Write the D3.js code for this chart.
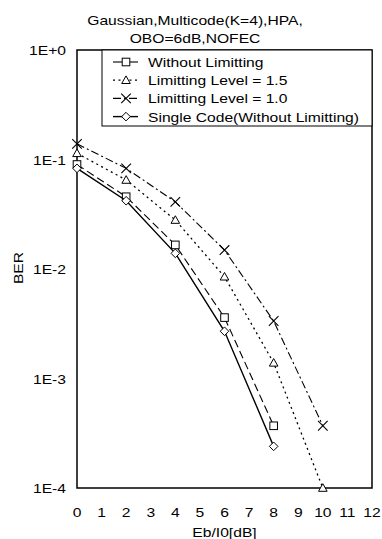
<!DOCTYPE html>
<html>
<head>
<meta charset="utf-8">
<script src="https://cdn.jsdelivr.net/npm/d3@7"></script>
<style>
  body { margin: 0; background: #fff; }
  text { font-family: "Liberation Sans", Arial, sans-serif; font-size: 13.6px; fill: #000; }
</style>
</head>
<body>
<div id="chart"></div>
<script>
var width = 382;
var height = 539;

// chart data
var xTicks = [0, 1, 2, 3, 4, 5, 6, 7, 8, 9, 10, 11, 12];
var yTicks = [1, 1e-1, 1e-2, 1e-3, 1e-4];
var yTickLabels = ["1E+0", "1E-1", "1E-2", "1E-3", "1E-4"];
var seriesNames = ["Without Limitting", "Limitting Level = 1.5", "Limitting Level = 1.0", "Single Code(Without Limitting)"];
var ebnoShort = [0, 2, 4, 6, 8];
var ebnoLong = [0, 2, 4, 6, 8, 10];
var berNoLimit = [0.090, 0.0457, 0.0166, 0.0036, 0.00037];
var berLimit15 = [0.114, 0.065, 0.028, 0.0085, 0.00139, 0.0001];
var berLimit10 = [0.139, 0.083, 0.041, 0.0149, 0.00335, 0.00037];
var berSingle = [0.083, 0.042, 0.0139, 0.0027, 0.00024];

var series = [
  {name: seriesNames[0], x: ebnoShort, y: berNoLimit, sym: "square", dash: "8,4", legDash: null, w: 1.1},
  {name: seriesNames[1], x: ebnoLong, y: berLimit15, sym: "triangle", dash: "2,3.5", legDash: "2,3.5", w: 1.3},
  {name: seriesNames[2], x: ebnoLong, y: berLimit10, sym: "cross", dash: "8,3,2,3", legDash: "8,3,2,3", w: 1.1},
  {name: seriesNames[3], x: ebnoShort, y: berSingle, sym: "diamond", dash: null, legDash: null, w: 1.4}
];

var margin = {left: 77, top: 50, right: 10, bottom: 51};
var plotW = width - margin.left - margin.right;
var plotH = height - margin.top - margin.bottom;
var sx = 1.15; // text in the picture is a little wide

var svg = d3.select("#chart").append("svg")
  .attr("width", width)
  .attr("height", height);

var x = d3.scaleLinear().domain([0, 12]).range([0, plotW]);
var y = d3.scaleLog().domain([1e-4, 1]).range([plotH, 0]);

function label(parent, tx, ty, str, anchor, rot) {
  return parent.append("text")
    .attr("transform", "translate(" + tx + "," + ty + ")" + (rot ? " rotate(" + rot + ")" : "") + " scale(" + sx + ",1)")
    .attr("text-anchor", anchor || "middle")
    .text(str);
}

// title
label(svg, 195, 25, "Gaussian,Multicode(K=4),HPA,");
label(svg, 195, 42.5, "OBO=6dB,NOFEC");

var g = svg.append("g")
  .attr("transform", "translate(" + margin.left + "," + margin.top + ")");

// frame
g.append("rect")
  .attr("width", plotW).attr("height", plotH)
  .attr("fill", "none").attr("stroke", "#000").attr("stroke-width", 1.5);

// tick labels
yTicks.forEach(function(t, i) {
  label(g, -11, y(t) + 5, yTickLabels[i], "end");
});
xTicks.forEach(function(t) {
  label(g, x(t), plotH + 28.5, t);
});
label(g, plotW / 2, plotH + 48.5, "Eb/I0[dB]");
label(svg, 23, 268, "BER", "middle", -90);

function symbol(sel, type) {
  if (type === "square") {
    sel.append("rect").attr("x", -3.8).attr("y", -3.8).attr("width", 7.6).attr("height", 7.6)
      .attr("fill", "#fff").attr("stroke", "#000").attr("stroke-width", 1);
  } else if (type === "triangle") {
    sel.append("path").attr("d", "M0,-4.3L4.3,3.3L-4.3,3.3Z")
      .attr("fill", "#fff").attr("stroke", "#000").attr("stroke-width", 1);
  } else if (type === "cross") {
    sel.append("path").attr("d", "M-4.8,-4.8L4.8,4.8M-4.8,4.8L4.8,-4.8")
      .attr("fill", "none").attr("stroke", "#000").attr("stroke-width", 1.1);
  } else {
    sel.append("path").attr("d", "M0,-4.3L4.3,0L0,4.3L-4.3,0Z")
      .attr("fill", "#fff").attr("stroke", "#000").attr("stroke-width", 1);
  }
}

var line = d3.line()
  .x(function(d) { return x(d[0]); })
  .y(function(d) { return y(d[1]); });

series.forEach(function(s) {
  var pts = s.x.map(function(v, i) { return [v, s.y[i]]; });
  g.append("path")
    .attr("d", line(pts))
    .attr("fill", "none")
    .attr("stroke", "#000")
    .attr("stroke-width", s.w)
    .attr("stroke-dasharray", s.dash);
  pts.forEach(function(p) {
    symbol(g.append("g").attr("transform", "translate(" + x(p[0]) + "," + y(p[1]) + ")"), s.sym);
  });
});

// legend
var leg = svg.append("g").attr("transform", "translate(102,50)");
leg.append("rect")
  .attr("width", 270).attr("height", 76)
  .attr("fill", "#fff").attr("stroke", "#000").attr("stroke-width", 1);

series.forEach(function(s, i) {
  var ly = 12 + i * 18.2;
  leg.append("line")
    .attr("x1", 11).attr("x2", 36).attr("y1", ly).attr("y2", ly)
    .attr("stroke", "#000").attr("stroke-width", s.w)
    .attr("stroke-dasharray", s.legDash);
  symbol(leg.append("g").attr("transform", "translate(24," + ly + ")"), s.sym);
  label(leg, 46, ly + 5, s.name, "start");
});
</script>
</body>
</html>
